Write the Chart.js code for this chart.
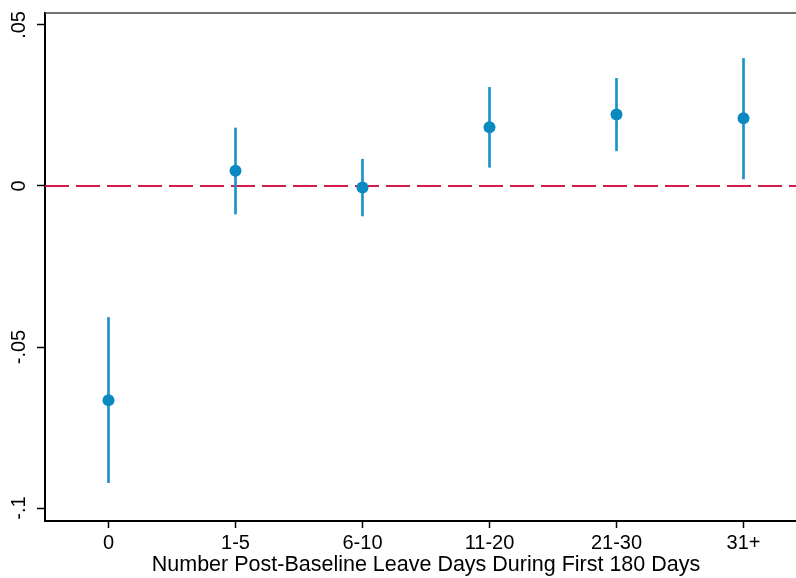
<!DOCTYPE html>
<html>
<head>
<meta charset="utf-8">
<script src="https://cdn.jsdelivr.net/npm/chart.js@4.4.1/dist/chart.umd.min.js"></script>
<style>
  html, body { margin: 0; padding: 0; background: #fff; overflow: hidden; }
  /* plot region runs a little past the right edge of the window, as in the original */
  #wrap { width: 813px; height: 578px; }
</style>
</head>
<body>
<div id="wrap"><canvas id="coef-chart" width="813" height="578"></canvas></div>
<script>
// Categories and estimates
const categories = ['0', '1-5', '6-10', '11-20', '21-30', '31+'];
const estimates = [-0.0665, 0.0047, -0.0005, 0.0182, 0.0222, 0.0210];
const ciLower = [-0.0921, -0.0087, -0.0093, 0.0058, 0.0109, 0.0022];
const ciUpper = [-0.0408, 0.0180, 0.0083, 0.0306, 0.0334, 0.0396];
const yTicks = [-0.1, -0.05, 0, 0.05];
const yTickLabels = ['-.1', '-.05', '0', '.05'];
const xTitle = 'Number Post-Baseline Leave Days During First 180 Days';

const FONT = "'Liberation Sans', Arial, sans-serif";

// top outline of the plot region
const topBorder = {
    id: 'topBorder',
    afterDraw(chart) {
        const { ctx, chartArea } = chart;
        ctx.save();
        ctx.strokeStyle = '#444';
        ctx.lineWidth = 1.5;
        ctx.beginPath();
        ctx.moveTo(chartArea.left, chartArea.top);
        ctx.lineTo(chartArea.right, chartArea.top);
        ctx.stroke();
        ctx.restore();
    }
};

const pointData = categories.map((c, i) => ({ x: i, y: estimates[i] }));
const ciData = categories.map((c, i) => ({ x: i, y: [ciLower[i], ciUpper[i]] }));

const ctx = document.getElementById('coef-chart').getContext('2d');
new Chart(ctx, {
    type: 'bar',
    data: {
        datasets: [
            {
                type: 'line',
                data: [{ x: -0.5, y: 0 }, { x: 5.5, y: 0 }],
                borderColor: '#d31c4b',
                borderWidth: 2,
                borderDash: [24, 7],
                pointRadius: 0,
                fill: false,
                order: 3
            },
            {
                type: 'bar',
                data: ciData,
                backgroundColor: '#1a93c8',
                borderWidth: 0,
                barThickness: 2,
                order: 2
            },
            {
                type: 'scatter',
                data: pointData,
                backgroundColor: '#0a8ac0',
                borderWidth: 0,
                pointRadius: 6,
                order: 1
            }
        ]
    },
    options: {
        responsive: false,
        animation: false,
        layout: { padding: { top: 13, right: 0, left: 0, bottom: 0 } },
        plugins: {
            legend: { display: false },
            tooltip: { enabled: false }
        },
        scales: {
            x: {
                type: 'linear',
                min: -0.5,
                max: 5.5,
                offset: false,
                afterBuildTicks: scale => { scale.ticks = categories.map((c, i) => ({ value: i })); },
                afterFit: scale => { scale.height = 57; },
                ticks: {
                    color: '#000',
                    font: { family: FONT, size: 20 },
                    padding: 3,
                    maxRotation: 0,
                    autoSkip: false,
                    callback: v => categories[v]
                },
                grid: { offset: false, drawOnChartArea: false, tickLength: 7, tickColor: '#000', tickWidth: 1.5 },
                border: { color: '#000', width: 2 },
                title: {
                    display: true,
                    text: xTitle,
                    color: '#000',
                    font: { family: FONT, size: 21.5 },
                    padding: { top: 0, bottom: 0 }
                }
            },
            y: {
                min: -0.104,
                max: 0.0537,
                afterBuildTicks: scale => { scale.ticks = yTicks.map(v => ({ value: v })); },
                afterFit: scale => { scale.width = 45; },
                ticks: {
                    color: '#000',
                    font: { family: FONT, size: 20 },
                    minRotation: 90,
                    maxRotation: 90,
                    crossAlign: 'center',
                    padding: 0,
                    callback: v => yTickLabels[yTicks.indexOf(v)]
                },
                grid: { drawOnChartArea: false, tickLength: 8, tickColor: '#000', tickWidth: 1.5 },
                border: { color: '#000', width: 2 }
            }
        }
    },
    plugins: [topBorder]
});
</script>
</body>
</html>
